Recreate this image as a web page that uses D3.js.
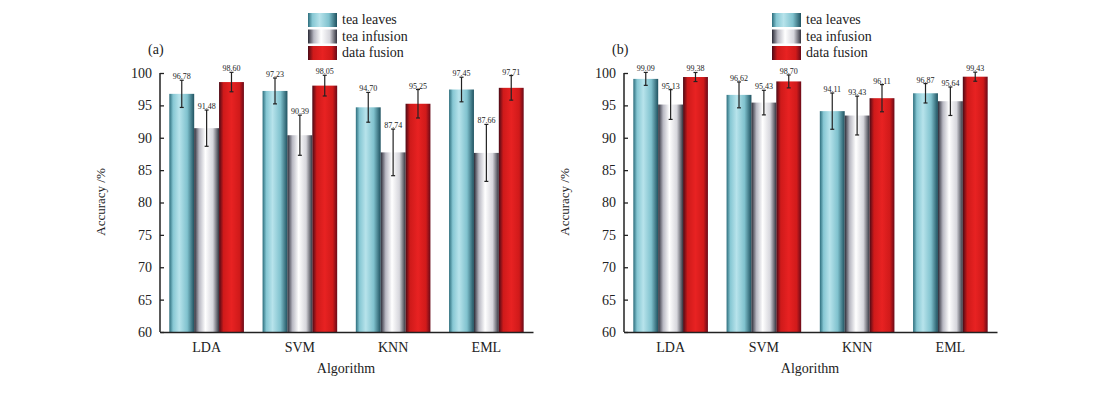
<!DOCTYPE html>
<html>
<head>
<meta charset="utf-8">
<script src="https://cdn.jsdelivr.net/npm/d3@7"></script>
<style>
  body { margin: 0; background: #fff; }
  svg { display: block; font-family: "Liberation Serif", "DejaVu Serif", serif; }
</style>
</head>
<body>
<svg id="chart" width="1108" height="398"></svg>
<script>
// categories / series
const algorithms = ["LDA", "SVM", "KNN", "EML"];
const seriesNames = ["tea leaves", "tea infusion", "data fusion"];
const yTicks = [60, 65, 70, 75, 80, 85, 90, 95, 100];

// panel (a)
const aLeaves   = [96.78, 97.23, 94.70, 97.45];
const aInfusion = [91.48, 90.39, 87.74, 87.66];
const aFusion   = [98.60, 98.05, 95.25, 97.71];
const aLeavesErr   = [2.1, 2.0, 2.3, 1.9];
const aInfusionErr = [2.8, 3.1, 3.6, 4.4];
const aFusionErr   = [1.5, 1.6, 2.2, 1.9];

// panel (b)
const bLeaves   = [99.09, 96.62, 94.11, 96.87];
const bInfusion = [95.13, 95.43, 93.43, 95.64];
const bFusion   = [99.38, 98.70, 96.11, 99.43];
const bLeavesErr   = [1.0, 2.0, 2.8, 1.5];
const bInfusionErr = [2.3, 1.9, 3.0, 2.2];
const bFusionErr   = [0.7, 1.0, 2.1, 0.7];

const svg = d3.select("#chart");
const defs = svg.append("defs");

// gradient fills to mimic the shaded cylinders
const grads = [
  {id: "gLeaves", stops: [[0, "#2c6d7c"], [0.15, "#86c7d3"], [0.4, "#b7e3eb"], [0.72, "#80c2ce"], [1, "#1f5260"]]},
  {id: "gInfusion", stops: [[0, "#2a2a36"], [0.2, "#b8b8c2"], [0.45, "#ffffff"], [0.75, "#d6d6dc"], [1, "#34343f"]]},
  {id: "gFusion", stops: [[0, "#4a0a16"], [0.18, "#cf1a1a"], [0.5, "#e82222"], [0.82, "#d01a1a"], [1, "#6a0a18"]]}
];
grads.forEach(g => {
  const lg = defs.append("linearGradient").attr("id", g.id)
    .attr("x1", 0).attr("x2", 1).attr("y1", 0).attr("y2", 0);
  g.stops.forEach(s => lg.append("stop").attr("offset", s[0]).attr("stop-color", s[1]));
});
const fills = ["url(#gLeaves)", "url(#gInfusion)", "url(#gFusion)"];

function drawPanel(ox, tag, vals, errs, labels) {
  const g = svg.append("g").attr("transform", `translate(${ox},0)`);
  const x0 = d3.scaleBand().domain(algorithms).range([160, 533]).paddingInner(0.2).paddingOuter(0.1);
  const x1 = d3.scaleBand().domain(seriesNames).range([0, x0.bandwidth()]);
  const y = d3.scaleLinear().domain([60, 100]).range([332, 73]);

  const rows = [];
  algorithms.forEach((a, i) => {
    seriesNames.forEach((s, j) => {
      rows.push({alg: a, ser: s, j: j, v: vals[j][i], e: errs[j][i], lab: labels[j][i]});
    });
  });

  g.selectAll("rect.bar").data(rows).enter().append("rect")
    .attr("class", "bar")
    .attr("x", d => x0(d.alg) + x1(d.ser))
    .attr("y", d => y(d.v))
    .attr("width", x1.bandwidth())
    .attr("height", d => y(60) - y(d.v))
    .attr("fill", d => fills[d.j]);

  // error bars
  const eb = g.selectAll("g.err").data(rows).enter().append("g").attr("class", "err")
    .attr("transform", d => `translate(${x0(d.alg) + x1(d.ser) + x1.bandwidth() / 2},0)`);
  eb.append("line")
    .attr("y1", d => y(d.v - d.e)).attr("y2", d => y(Math.min(d.v + d.e, 100.3)))
    .attr("stroke", "#222").attr("stroke-width", 1.2);
  eb.append("line").attr("x1", -2).attr("x2", 2)
    .attr("y1", d => y(d.v - d.e)).attr("y2", d => y(d.v - d.e))
    .attr("stroke", "#222").attr("stroke-width", 1.2);
  eb.append("line").attr("x1", -2).attr("x2", 2)
    .attr("y1", d => y(Math.min(d.v + d.e, 100.3))).attr("y2", d => y(Math.min(d.v + d.e, 100.3)))
    .attr("stroke", "#222").attr("stroke-width", 1.2);
  eb.append("text")
    .attr("y", d => y(Math.min(d.v + d.e, 100.3)) - 1)
    .attr("text-anchor", "middle")
    .attr("font-size", 8)
    .attr("fill", "#222")
    .text(d => d.lab);

  // axes
  const yAxis = d3.axisLeft(y).tickValues(yTicks).tickSize(-4).tickPadding(8).tickFormat(d3.format("d"));
  const ya = g.append("g").attr("transform", "translate(160,0)").call(yAxis);
  ya.select(".domain").attr("d", "M0,73V332").attr("stroke", "#222").attr("stroke-width", 1.5);
  ya.selectAll(".tick line").attr("stroke", "#222").attr("stroke-width", 1.3);
  ya.selectAll(".tick text").attr("font-size", 14).attr("fill", "#222")
    .attr("font-family", "Liberation Serif, serif");

  const xAxis = d3.axisBottom(x0).tickSize(0).tickPadding(10);
  const xa = g.append("g").attr("transform", "translate(0,332)").call(xAxis);
  xa.select(".domain").attr("stroke", "#222").attr("stroke-width", 1.5);
  xa.selectAll(".tick text").attr("font-size", 14).attr("fill", "#222")
    .attr("font-family", "Liberation Serif, serif");

  g.append("text").attr("x", 346).attr("y", 373).attr("text-anchor", "middle")
    .attr("font-size", 14).attr("fill", "#222").text("Algorithm");
  g.append("text").attr("transform", "translate(105,202) rotate(-90)").attr("text-anchor", "middle")
    .attr("font-size", 13).attr("fill", "#222").text("Accuracy /%");
  g.append("text").attr("x", 148).attr("y", 54)
    .attr("font-size", 14).attr("fill", "#222").text(tag);

  // legend
  const lg = g.append("g").attr("transform", "translate(308,13)");
  seriesNames.forEach((s, j) => {
    lg.append("rect").attr("x", 0).attr("y", j * 16.5).attr("width", 29).attr("height", 14)
      .attr("fill", fills[j]);
    lg.append("text").attr("x", 34).attr("y", j * 16.5 + 11).attr("font-size", 14)
      .attr("fill", "#222").text(s);
  });
}

drawPanel(0, "(a)", [aLeaves, aInfusion, aFusion], [aLeavesErr, aInfusionErr, aFusionErr],
  [aLeaves, aInfusion, aFusion].map(a => a.map(v => v.toFixed(2))));
drawPanel(464, "(b)", [bLeaves, bInfusion, bFusion], [bLeavesErr, bInfusionErr, bFusionErr],
  [bLeaves, bInfusion, bFusion].map(a => a.map(v => v.toFixed(2))));
</script>
</body>
</html>
